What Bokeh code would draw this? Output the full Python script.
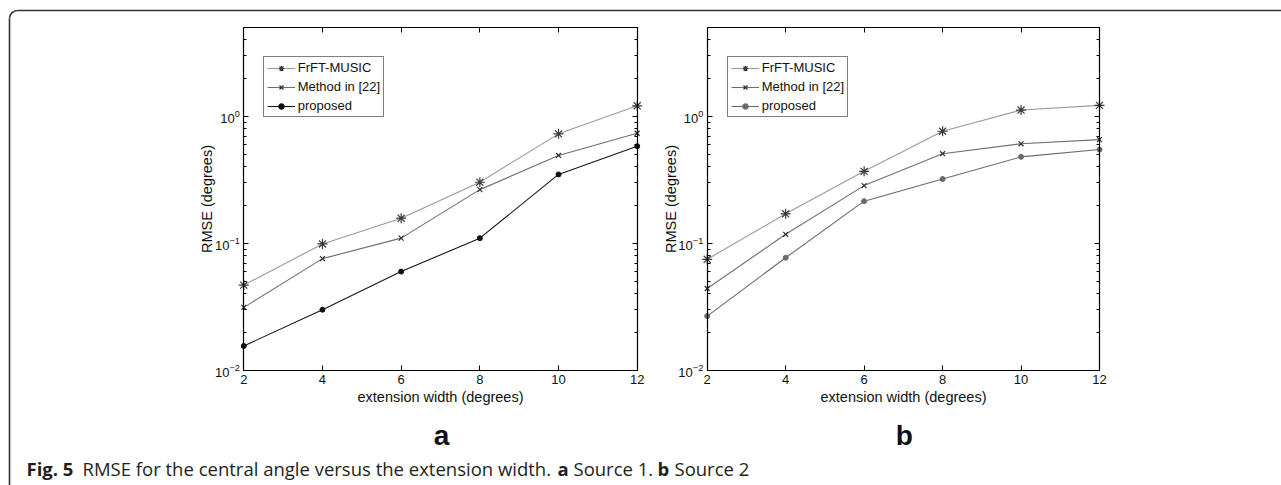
import math
from bokeh.plotting import figure
from bokeh.models import (Range1d, LogScale, LinearAxis, LogAxis, FixedTicker,
                          Legend, LegendItem, CustomJSTickFormatter)
from bokeh.core.properties import value
from bokeh.embed import file_html
from bokeh.resources import INLINE

# ---------------- data ----------------
X_VALUES = [2, 4, 6, 8, 10, 12]
FRFT_A = [0.047, 0.099, 0.158, 0.303, 0.728, 1.21]
METHOD_A = [0.0314, 0.0759, 0.110, 0.265, 0.492, 0.736]
PROPOSED_A = [0.0156, 0.0301, 0.060, 0.110, 0.349, 0.582]
FRFT_B = [0.075, 0.171, 0.369, 0.763, 1.12, 1.22]
METHOD_B = [0.0442, 0.118, 0.285, 0.508, 0.608, 0.656]
PROPOSED_B = [0.0268, 0.0772, 0.215, 0.321, 0.480, 0.548]
SERIES_NAMES = ["FrFT-MUSIC", "Method in [22]", "proposed"]
PANEL_NAMES = ["a", "b"]
X_TICKS = [2, 4, 6, 8, 10, 12]
Y_MAJOR = [0.01, 0.1, 1]
Y_MINOR = [0.02, 0.03, 0.04, 0.05, 0.06, 0.07, 0.08, 0.09,
           0.2, 0.3, 0.4, 0.5, 0.6, 0.7, 0.8, 0.9,
           2, 3, 4, 5]
XMIN, XMAX = 2, 12
YMIN, YMAX = 0.01, 5
X_LABEL = "extension width (degrees)"
Y_LABEL = "RMSE (degrees)"

# ---------------- layout (pixels) ----------------
W, H = 1281, 485
PANEL_LEFT = [243.3, 706.7]
PANEL_RIGHT = [636.7, 1099.0]
PANEL_TOP = 27.0
PANEL_BOTTOM = 370.0
LEGEND_LEFT = [262.7, 726.7]
LEGEND_BOTTOM = 117.3

AX_FONT = "Liberation Sans"
CAP_FONT = "Open Sans"

p = figure(width=W, height=H, x_range=Range1d(0, W), y_range=Range1d(0, H),
           x_axis_type=None, y_axis_type=None, toolbar_location=None,
           output_backend="svg", min_border=0, outline_line_color=None,
           title_location=None)
p.background_fill_color = "white"
p.border_fill_color = "white"

# log y range shared by both panels
qb = H - PANEL_BOTTOM
qt = H - PANEL_TOP
lpp = (math.log10(YMAX) - math.log10(YMIN)) / (qt - qb)
p.extra_y_ranges = {"ly": Range1d(10 ** (math.log10(YMIN) - qb * lpp),
                                  10 ** (math.log10(YMIN) + (H - qb) * lpp))}
p.extra_y_scales = {"ly": LogScale()}

xr = {}
for i, name in enumerate(PANEL_NAMES):
    sc = (PANEL_RIGHT[i] - PANEL_LEFT[i]) / (XMAX - XMIN)
    xr["x" + name] = Range1d(XMIN - PANEL_LEFT[i] / sc, XMIN + (W - PANEL_LEFT[i]) / sc)
p.extra_x_ranges = xr

blank = CustomJSTickFormatter(code="return ''")


def style_axis(ax):
    ax.axis_line_color = "black"
    ax.axis_line_width = 1.2
    ax.major_tick_in = 5
    ax.major_tick_out = 0
    ax.minor_tick_in = 3
    ax.minor_tick_out = 0
    ax.major_tick_line_color = "black"
    ax.minor_tick_line_color = "black"
    ax.major_label_text_font = AX_FONT
    ax.major_label_text_font_size = "13px"
    ax.major_label_text_color = "#111111"
    ax.major_label_standoff = 4
    ax.axis_label_text_font = AX_FONT
    ax.axis_label_text_font_size = "14.5px"
    ax.axis_label_text_font_style = "normal"
    ax.axis_label_text_color = "#111111"


panel_data = {
    "a": [FRFT_A, METHOD_A, PROPOSED_A],
    "b": [FRFT_B, METHOD_B, PROPOSED_B],
}
line_colors = {"a": ["#9a9a9a", "#6e6e6e", "#151515"],
               "b": ["#9a9a9a", "#6e6e6e", "#6a6a6a"]}
marker_colors = {"a": ["#3a3a3a", "#2e2e2e", "#111111"],
                 "b": ["#3a3a3a", "#2e2e2e", "#6a6a6a"]}
markers = ["asterisk", "x", "circle"]
msizes = [10, 7, 5]

for i, name in enumerate(PANEL_NAMES):
    xn = "x" + name
    # axes (box)
    bottom = LinearAxis(x_range_name=xn, y_range_name="ly", fixed_location=YMIN,
                        bounds=(XMIN, XMAX),
                        ticker=FixedTicker(ticks=X_TICKS, minor_ticks=[]),
                        axis_label=X_LABEL)
    style_axis(bottom)
    bottom.axis_label_standoff = 2
    p.add_layout(bottom, "below")
    top = LinearAxis(x_range_name=xn, y_range_name="ly", fixed_location=YMAX,
                     bounds=(XMIN, XMAX),
                     ticker=FixedTicker(ticks=X_TICKS, minor_ticks=[]),
                     formatter=blank)
    style_axis(top)
    p.add_layout(top, "above")
    left = LogAxis(x_range_name=xn, y_range_name="ly", fixed_location=XMIN,
                   bounds=(YMIN, YMAX),
                   ticker=FixedTicker(ticks=Y_MAJOR, minor_ticks=Y_MINOR),
                   axis_label=Y_LABEL)
    style_axis(left)
    left.axis_label_standoff = -3
    p.add_layout(left, "left")
    right = LogAxis(x_range_name=xn, y_range_name="ly", fixed_location=XMAX,
                    bounds=(YMIN, YMAX),
                    ticker=FixedTicker(ticks=Y_MAJOR, minor_ticks=Y_MINOR),
                    formatter=blank)
    style_axis(right)
    p.add_layout(right, "right")

    items = []
    for k, series in enumerate(panel_data[name]):
        lr = p.line(X_VALUES, series, x_range_name=xn, y_range_name="ly",
                    line_color=line_colors[name][k], line_width=1.1)
        if markers[k] == "circle":
            sr = p.scatter(X_VALUES, series, x_range_name=xn, y_range_name="ly",
                           marker="circle", size=msizes[k],
                           line_color=marker_colors[name][k],
                           fill_color=marker_colors[name][k])
        else:
            sr = p.scatter(X_VALUES, series, x_range_name=xn, y_range_name="ly",
                           marker=markers[k], size=msizes[k],
                           line_color=marker_colors[name][k], line_width=1.2)
        items.append(LegendItem(label=SERIES_NAMES[k], renderers=[lr, sr]))

    leg = Legend(items=items, location=(LEGEND_LEFT[i], H - LEGEND_BOTTOM),
                 border_line_color="black", border_line_width=1.2,
                 background_fill_color="white", background_fill_alpha=1,
                 label_text_font=AX_FONT, label_text_font_size="13px",
                 label_text_color="#111111",
                 glyph_width=28, glyph_height=14, label_height=14,
                 spacing=4, padding=3, margin=0, label_standoff=3)
    p.add_layout(leg, "center")

    # panel letter
    p.text(x=[(PANEL_LEFT[i] + PANEL_RIGHT[i]) / 2 + 1], y=[H - 435], text=[name],
           text_font=value(AX_FONT), text_font_style="bold",
           text_font_size="28px", text_align="center",
           text_baseline="alphabetic", text_color="#111111")

# outer frame with rounded corner
FR_X, FR_Y, FR_R = 9, 10, 8
p.line(x=[FR_X, FR_X], y=[0, H - FR_Y - FR_R], line_color="#333333", line_width=1.6)
p.arc(x=FR_X + FR_R, y=H - FR_Y - FR_R, radius=FR_R, start_angle=math.pi / 2,
      end_angle=math.pi, line_color="#333333", line_width=1.6)
p.line(x=[FR_X + FR_R, W], y=[H - FR_Y, H - FR_Y], line_color="#333333", line_width=1.6)

# caption
CAPTION_PARTS = [
    ("Fig. 5", "bold", 26),
    ("RMSE for the central angle versus the extension width.", "normal", 82),
    ("a", "bold", 557),
    ("Source 1.", "normal", 573),
    ("b", "bold", 657),
    ("Source 2", "normal", 674),
]
for txt, style, x0 in CAPTION_PARTS:
    p.text(x=[x0], y=[H - 468], text=[txt], text_font=value(CAP_FONT),
           text_font_style=style, text_font_size="18.5px", text_align="left",
           text_baseline="alphabetic", text_color="#231f20")

open("out.html", "w").write(file_html(p, INLINE))
